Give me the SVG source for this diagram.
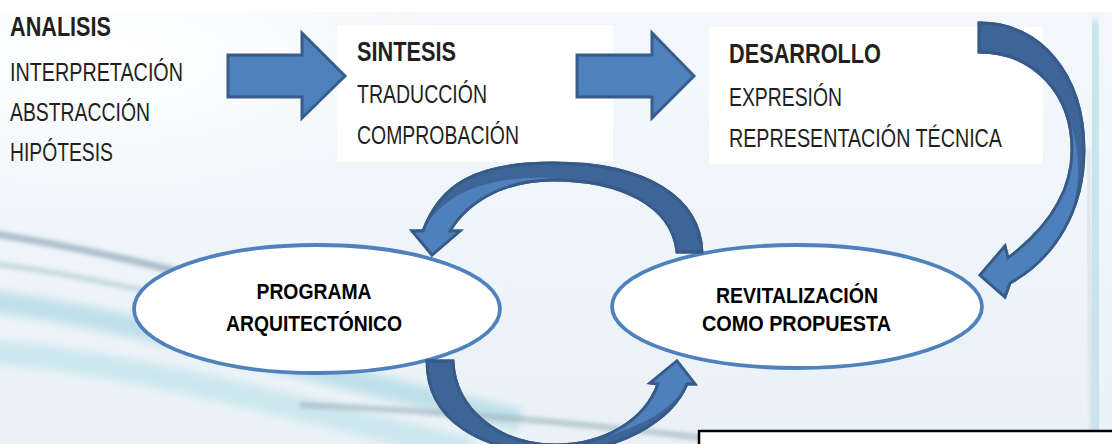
<svg xmlns="http://www.w3.org/2000/svg" width="1112" height="444" viewBox="0 0 1112 444">
<defs>
<style>
.t{font-family:"Liberation Sans Narrow","Liberation Sans",Arial,sans-serif;fill:#231F20;}
.b{font-weight:bold;}
.r{font-size:25px;}
.h{font-size:27px;}
.e{font-family:"Liberation Sans Narrow","Liberation Sans",Arial,sans-serif;font-weight:bold;font-size:22.5px;fill:#000;text-anchor:middle;}
.box{fill:#FFFFFF;}
.node{fill:#FFFFFF;stroke:#4F81BD;stroke-width:3.8;}
.arr{fill:#4F81BD;stroke:#385D8A;stroke-width:3;stroke-linejoin:miter;}
.dark{fill:#3D6598;stroke:#375B88;stroke-width:2.8;stroke-linejoin:miter;}
.light{fill:#4E80BC;stroke:none;}
.line{fill:none;stroke:#375B88;stroke-width:2.8;stroke-linejoin:miter;}
</style>
<linearGradient id="bg" x1="0" y1="0" x2="0" y2="1">
<stop offset="0" stop-color="#F4F8FC"/>
<stop offset="1" stop-color="#EAF2F7"/>
</linearGradient>
<radialGradient id="wl" cx="0.15" cy="0.2" r="0.5">
<stop offset="0" stop-color="#FFFFFF" stop-opacity="1"/>
<stop offset="1" stop-color="#FFFFFF" stop-opacity="0"/>
</radialGradient>
<filter id="bl" x="-20%" y="-50%" width="140%" height="200%"><feGaussianBlur stdDeviation="4"/></filter>
<filter id="bl2" x="-20%" y="-50%" width="140%" height="200%"><feGaussianBlur stdDeviation="2"/></filter>
</defs>

<g id="background">
<rect x="0" y="0" width="1112" height="444" fill="url(#bg)"/>
<rect x="0" y="0" width="700" height="300" fill="url(#wl)"/>
<rect x="0" y="0" width="1112" height="12" fill="#FFFFFF"/>
<path d="M-20,300 C120,315 300,370 520,420" stroke="#BFE0E9" stroke-width="22" fill="none" filter="url(#bl)"/>
<path d="M-20,350 C150,365 300,410 470,450" stroke="#CCE7EE" stroke-width="24" fill="none" filter="url(#bl)"/>
<path d="M-20,232 C100,248 250,290 420,330" stroke="#94ABBA" stroke-width="7" fill="none" opacity="0.75" filter="url(#bl2)"/>
<path d="M-20,262 C120,278 260,320 430,360" stroke="#AFC8D3" stroke-width="6" fill="none" opacity="0.6" filter="url(#bl2)"/>
<path d="M300,405 C420,410 560,420 720,440" stroke="#A3B5C0" stroke-width="6" fill="none" opacity="0.7" filter="url(#bl2)"/>
<path d="M1093,20 L1098,444" stroke="#C4E2EA" stroke-width="16" fill="none" filter="url(#bl)"/>
<path d="M1088,150 L1092,444" stroke="#B9C8CF" stroke-width="3" fill="none" opacity="0.6" filter="url(#bl2)"/>
</g>

<g id="node-analisis">
<text class="t b h" x="10" y="36" textLength="101" lengthAdjust="spacingAndGlyphs">ANALISIS</text>
<text class="t r" x="10" y="80.5" textLength="173" lengthAdjust="spacingAndGlyphs">INTERPRETACIÓN</text>
<text class="t r" x="10" y="120.5" textLength="140" lengthAdjust="spacingAndGlyphs">ABSTRACCIÓN</text>
<text class="t r" x="10" y="161" textLength="103" lengthAdjust="spacingAndGlyphs">HIPÓTESIS</text>
</g>

<g id="node-sintesis">
<rect class="box" x="337" y="25" width="276" height="137"/>
<text class="t b h" x="357" y="61" textLength="99" lengthAdjust="spacingAndGlyphs">SINTESIS</text>
<text class="t r" x="357" y="103" textLength="130" lengthAdjust="spacingAndGlyphs">TRADUCCIÓN</text>
<text class="t r" x="357" y="144" textLength="162" lengthAdjust="spacingAndGlyphs">COMPROBACIÓN</text>
</g>

<g id="node-desarrollo">
<rect class="box" x="709" y="27" width="334" height="137"/>
<text class="t b h" x="729" y="63" textLength="152" lengthAdjust="spacingAndGlyphs">DESARROLLO</text>
<text class="t r" x="729" y="106" textLength="113" lengthAdjust="spacingAndGlyphs">EXPRESIÓN</text>
<text class="t r" x="729" y="147" textLength="273" lengthAdjust="spacingAndGlyphs">REPRESENTACIÓN TÉCNICA</text>
</g>

<g id="node-programa">
<ellipse class="node" cx="317" cy="309" rx="183" ry="64"/>
<text class="e" x="314" y="299" textLength="115" lengthAdjust="spacingAndGlyphs">PROGRAMA</text>
<text class="e" x="314" y="331" textLength="176" lengthAdjust="spacingAndGlyphs">ARQUITECTÓNICO</text>
</g>

<g id="node-revitalizacion">
<ellipse class="node" cx="797" cy="306.5" rx="185" ry="61.5"/>
<text class="e" x="797" y="303" textLength="162" lengthAdjust="spacingAndGlyphs">REVITALIZACIÓN</text>
<text class="e" x="796.5" y="331" textLength="189" lengthAdjust="spacingAndGlyphs">COMO PROPUESTA</text>
</g>

<g id="connectors">
<path class="arr" d="M228,55 L302,55 L302,33 L345,76 L302,118 L302,97 L228,97 Z"/>
<path class="arr" d="M577,55 L652,55 L652,33 L694,76 L652,118 L652,97 L577,97 Z"/>

<g id="curve-right">
<path class="dark" d="M979,23 C1040,22 1084,75 1084,150 C1084,210 1055,258 1010,283 L1005,297 L980,275 L1005,246 L1008,258 C1045,230 1072,195 1072,150 C1072,95 1035,52 979,52 Z"/>
<path class="light" d="M1071,125 C1073,135 1073,145 1072,150 C1072,195 1045,230 1008,258 L1005,246 L980,275 L1005,297 L1010,283 C1050,262 1078,225 1078,170 C1078,150 1075,135 1071,125 Z"/>
<path class="line" d="M979,23 C1040,22 1084,75 1084,150 C1084,210 1055,258 1010,283 L1005,297 L980,275 L1005,246 L1008,258 C1045,230 1072,195 1072,150 C1072,95 1035,52 979,52 Z"/>
</g>

<g id="curve-top">
<path class="dark" d="M702,252 C700,200 650,163 553,163 C475,163 440,185 423,231 L412,231 L432,255 L460,231 L450,231 C465,205 500,180 553,180 C620,180 672,205 677,252 Z"/>
<path class="light" d="M560,178 C500,180 465,205 450,231 L460,231 L432,255 L412,231 L423,231 C440,198 480,174 560,178 Z"/>
<path class="line" d="M702,252 C700,200 650,163 553,163 C475,163 440,185 423,231 L412,231 L432,255 L460,231 L450,231 C465,205 500,180 553,180 C620,180 672,205 677,252 Z"/>
</g>

<g id="curve-bottom">
<path class="dark" d="M427,361 C427,420 480,452 555,452 C620,452 672,420 687,384 L695,384 L677,361 L650,383 L658,384 C645,420 605,445 555,445 C500,445 455,410 453,361 Z"/>
<path class="light" d="M540,446 C605,445 645,420 658,384 L650,383 L677,361 L695,384 L687,384 C670,415 620,442 540,446 Z"/>
<path class="line" d="M427,361 C427,420 480,452 555,452 C620,452 672,420 687,384 L695,384 L677,361 L650,383 L658,384 C645,420 605,445 555,445 C500,445 455,410 453,361 Z"/>
</g>
</g>

<g id="note-box">
<rect x="699" y="431" width="430" height="30" fill="#FFFFFF" stroke="#000000" stroke-width="2.5"/>
</g>
</svg>
